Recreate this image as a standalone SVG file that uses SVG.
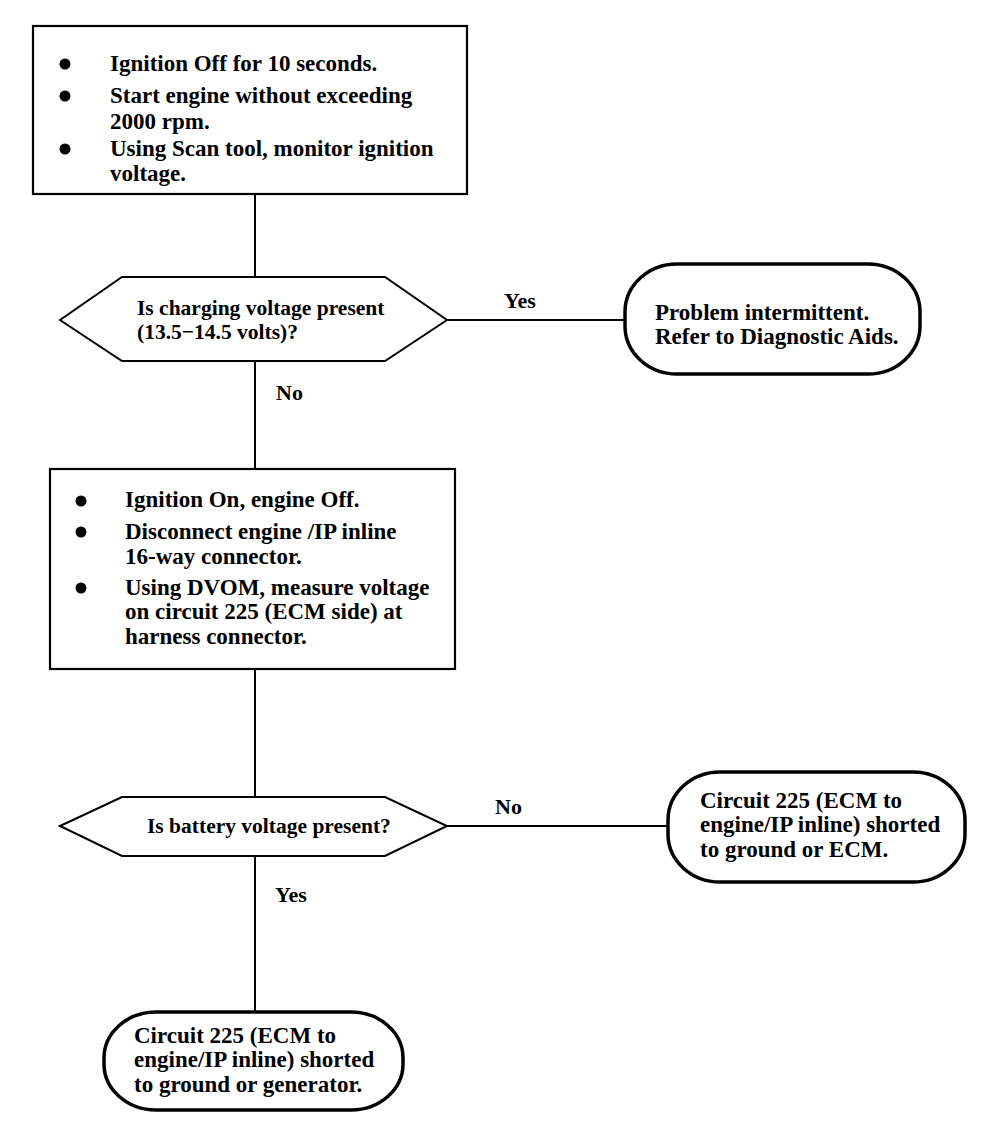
<svg xmlns="http://www.w3.org/2000/svg" width="1008" height="1140" viewBox="0 0 1008 1140">
<style>
.box{fill:#fff;stroke:#000;stroke-width:2.2}
.dec{fill:#fff;stroke:#000;stroke-width:2}
.term{fill:#fff;stroke:#000;stroke-width:3.5}
.conn{stroke:#000;stroke-width:2;fill:none}
text{font-family:"Liberation Serif","Times New Roman",serif;font-weight:bold;fill:#000}
.t{font-size:23px}
.d{font-size:21.5px}
.lbl{font-size:22px}
.bul{fill:#000}
</style>
<rect width="1008" height="1140" fill="#fff"/>
<g id="connectors">
<line class="conn" x1="255" y1="194" x2="255" y2="277"/>
<line class="conn" x1="447" y1="320" x2="625" y2="320"/>
<line class="conn" x1="255" y1="361" x2="255" y2="469"/>
<line class="conn" x1="255" y1="669" x2="255" y2="797"/>
<line class="conn" x1="447" y1="826" x2="668" y2="826"/>
<line class="conn" x1="255" y1="856" x2="255" y2="1012"/>
<text class="lbl" x="504" y="308">Yes</text>
<text class="lbl" x="276" y="400">No</text>
<text class="lbl" x="495" y="814">No</text>
<text class="lbl" x="275" y="902">Yes</text>
</g>
<g id="step1">
<rect class="box" x="33" y="26" width="434" height="168"/>
<circle class="bul" cx="65" cy="64" r="5.5"/>
<circle class="bul" cx="65" cy="96" r="5.5"/>
<circle class="bul" cx="65" cy="149" r="5.5"/>
<text class="t" x="110" y="71">Ignition Off for 10 seconds.</text>
<text class="t" x="110" y="103">Start engine without exceeding</text>
<text class="t" x="110" y="129">2000 rpm.</text>
<text class="t" x="110" y="156">Using Scan tool, monitor ignition</text>
<text class="t" x="110" y="181">voltage.</text>
</g>
<g id="decision1">
<polygon class="dec" points="60,320 122,277 385,277 447,320 385,361 122,361"/>
<text class="d" x="137" y="315">Is charging voltage present</text>
<text class="d" x="137" y="339">(13.5−14.5 volts)?</text>
</g>
<g id="result1">
<rect class="term" x="625" y="264" width="295" height="110" rx="52" ry="48"/>
<text class="t" x="655" y="320">Problem intermittent.</text>
<text class="t" x="655" y="344">Refer to Diagnostic Aids.</text>
</g>
<g id="step2">
<rect class="box" x="50" y="469" width="405" height="200"/>
<circle class="bul" cx="81" cy="501" r="5.5"/>
<circle class="bul" cx="81" cy="532" r="5.5"/>
<circle class="bul" cx="81" cy="588" r="5.5"/>
<text class="t" x="125" y="507">Ignition On, engine Off.</text>
<text class="t" x="125" y="539">Disconnect engine /IP inline</text>
<text class="t" x="125" y="564">16-way connector.</text>
<text class="t" x="125" y="595">Using DVOM, measure voltage</text>
<text class="t" x="125" y="619">on circuit 225 (ECM side) at</text>
<text class="t" x="125" y="644">harness connector.</text>
</g>
<g id="decision2">
<polygon class="dec" points="60,826 122,797 385,797 447,826 385,856 122,856"/>
<text class="d" x="147" y="833">Is battery voltage present?</text>
</g>
<g id="result2">
<rect class="term" x="668" y="772" width="297" height="110" rx="52" ry="48"/>
<text class="t" x="700" y="808">Circuit 225 (ECM to</text>
<text class="t" x="700" y="832">engine/IP inline) shorted</text>
<text class="t" x="700" y="857">to ground or ECM.</text>
</g>
<g id="result3">
<rect class="term" x="104" y="1012" width="299" height="98" rx="52" ry="46"/>
<text class="t" x="134" y="1043">Circuit 225 (ECM to</text>
<text class="t" x="134" y="1067">engine/IP inline) shorted</text>
<text class="t" x="134" y="1092">to ground or generator.</text>
</g>
</svg>
